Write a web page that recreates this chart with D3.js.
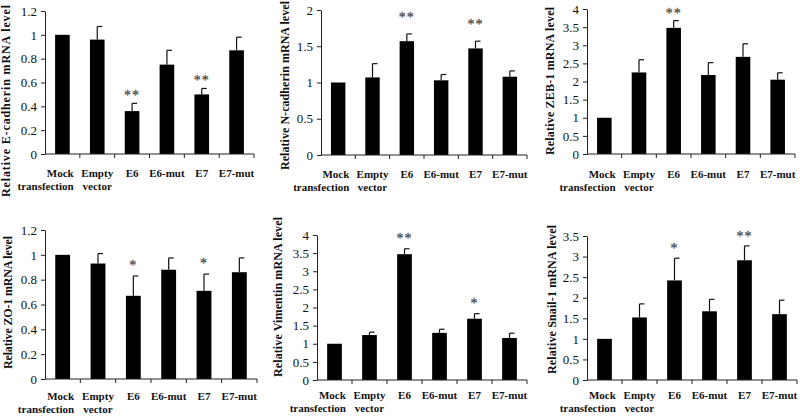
<!DOCTYPE html>
<html>
<head>
    <meta charset="utf-8">
    <title>Relative mRNA levels</title>
    <script src="https://d3js.org/d3.v7.min.js"></script>
</head>
<body style="margin: 0; background: #fff;">
    <div id="chart"></div>

    <script>
        const FONT = "'Liberation Serif', Tinos, 'Times New Roman', serif";

        // categories (two-line labels)
        const categories = ["Mock transfection", "Empty vector", "E6", "E6-mut", "E7", "E7-mut"];
        const categoryLines = [["Mock", "transfection"], ["Empty", "vector"], ["E6"], ["E6-mut"], ["E7"], ["E7-mut"]];

        // mean values and upper error (SD)
        const eCadherin    = [1, 0.96, 0.36, 0.75, 0.50, 0.87];
        const eCadherinErr = [0, 0.11, 0.065, 0.12, 0.05, 0.11];
        const eCadherinSig = ["", "", "**", "", "**", ""];

        const nCadherin    = [1, 1.07, 1.57, 1.03, 1.47, 1.08];
        const nCadherinErr = [0, 0.19, 0.10, 0.08, 0.10, 0.08];
        const nCadherinSig = ["", "", "**", "", "**", ""];

        const zeb1    = [1, 2.25, 3.48, 2.18, 2.68, 2.05];
        const zeb1Err = [0, 0.35, 0.20, 0.34, 0.36, 0.19];
        const zeb1Sig = ["", "", "**", "", "", ""];

        const zo1    = [1, 0.93, 0.67, 0.88, 0.71, 0.86];
        const zo1Err = [0, 0.08, 0.16, 0.095, 0.135, 0.115];
        const zo1Sig = ["", "", "*", "", "*", ""];

        const vimentin    = [1, 1.24, 3.47, 1.30, 1.69, 1.16];
        const vimentinErr = [0, 0.08, 0.15, 0.10, 0.14, 0.13];
        const vimentinSig = ["", "", "**", "", "*", ""];

        const snail1    = [1, 1.52, 2.42, 1.67, 2.91, 1.60];
        const snail1Err = [0, 0.33, 0.54, 0.29, 0.35, 0.34];
        const snail1Sig = ["", "", "*", "", "**", ""];

        const yLabels = [
            "Relative  E-cadherin  mRNA  level",
            "Relative  N-cadherin  mRNA  level",
            "Relative  ZEB-1  mRNA  level",
            "Relative  ZO-1  mRNA  level",
            "Relative  Vimentin  mRNA  level",
            "Relative  Snail-1  mRNA  level"
        ];
        const yMax  = [1.2, 2, 4, 1.2, 4, 3.5];
        const yStep = [0.2, 0.5, 0.5, 0.2, 0.5, 0.5];

        // panel layout (pixels)
        const panels = [
            { x0: 45,  x1: 254, yTop: 11,  yBot: 154, labX: 6,   labY0: 5,   labY1: 197, catY: 177, starGap: 3 },
            { x0: 321, x1: 527, yTop: 10,  yBot: 155, labX: 285, labY0: 1,   labY1: 170, catY: 178, starGap: 12 },
            { x0: 587, x1: 795, yTop: 9,   yBot: 154, labX: 550, labY0: 7,   labY1: 155, catY: 178, starGap: 3 },
            { x0: 45,  x1: 257, yTop: 230, yBot: 379, labX: 8,   labY0: 236, labY1: 369, catY: 400, starGap: 6 },
            { x0: 317, x1: 527, yTop: 235, yBot: 380, labX: 278, labY0: 217, labY1: 377, catY: 399, starGap: 6 },
            { x0: 587, x1: 797, yTop: 236, yBot: 380, labX: 552, labY0: 225, labY1: 374, catY: 399, starGap: 5 }
        ];
        const values = [eCadherin, nCadherin, zeb1, zo1, vimentin, snail1];
        const errors = [eCadherinErr, nCadherinErr, zeb1Err, zo1Err, vimentinErr, snail1Err];
        const sigs   = [eCadherinSig, nCadherinSig, zeb1Sig, zo1Sig, vimentinSig, snail1Sig];

        const svg = d3.select("#chart")
            .append("svg")
            .attr("width", 800)
            .attr("height", 417);

        panels.forEach(function(p, k) {
            const g = svg.append("g");
            const rows = categories.map((c, i) => ({ c: c, v: values[k][i], e: errors[k][i], s: sigs[k][i], i: i }));

            const x = d3.scaleBand()
                .domain(categories)
                .range([p.x0, p.x1])
                .paddingInner(0.58)
                .paddingOuter(0.29);
            const y = d3.scaleLinear()
                .domain([0, yMax[k]])
                .range([p.yBot, p.yTop]);

            // bars
            g.selectAll(".bar")
                .data(rows)
                .enter().append("rect")
                .attr("x", d => x(d.c))
                .attr("y", d => y(d.v))
                .attr("width", x.bandwidth())
                .attr("height", d => y(0) - y(d.v))
                .attr("fill", "#000");

            // error bars (upper only)
            const eb = rows.filter(d => d.e > 0);
            g.selectAll(".err")
                .data(eb)
                .enter().append("line")
                .attr("x1", d => x(d.c) + x.bandwidth() / 2)
                .attr("x2", d => x(d.c) + x.bandwidth() / 2)
                .attr("y1", d => y(d.v))
                .attr("y2", d => y(d.v + d.e))
                .attr("stroke", "#111")
                .attr("stroke-width", 1.2);
            g.selectAll(".cap")
                .data(eb)
                .enter().append("line")
                .attr("x1", d => x(d.c) + x.bandwidth() / 2)
                .attr("x2", d => x(d.c) + x.bandwidth() / 2 + 5)
                .attr("y1", d => y(d.v + d.e))
                .attr("y2", d => y(d.v + d.e))
                .attr("stroke", "#111")
                .attr("stroke-width", 1.2);

            // significance stars
            g.selectAll(".star")
                .data(rows.filter(d => d.s))
                .enter().append("text")
                .attr("x", d => x(d.c) + x.bandwidth() / 2)
                .attr("y", d => y(d.v + d.e) - p.starGap)
                .attr("text-anchor", "middle")
                .style("font-family", FONT)
                .style("font-size", "14px")
                .style("letter-spacing", "1px")
                .attr("fill", "#555")
                .attr("stroke", "#555")
                .attr("stroke-width", 0.3)
                .text(d => d.s);

            // y axis
            const yAxis = d3.axisLeft(y)
                .tickValues(d3.range(0, yMax[k] + 1e-9, yStep[k]))
                .tickFormat(d => String(+d.toFixed(2)))
                .tickSize(4)
                .tickSizeOuter(0);
            const ya = g.append("g")
                .attr("transform", "translate(" + p.x0 + ",0)")
                .call(yAxis);
            ya.selectAll("text")
                .style("font-family", FONT)
                .style("font-size", "13px")
                .attr("fill", "#111")
                .attr("dx", "-1");
            ya.selectAll("line, path").attr("stroke", "#222");

            // x axis with ticks between categories
            g.append("line")
                .attr("x1", p.x0).attr("x2", p.x1)
                .attr("y1", p.yBot).attr("y2", p.yBot)
                .attr("stroke", "#222");
            const step = x.step();
            g.selectAll(".xt")
                .data(categories.map(c => x(c) + x.bandwidth() + (step - x.bandwidth()) / 2))
                .enter().append("line")
                .attr("x1", d => d).attr("x2", d => d)
                .attr("y1", p.yBot).attr("y2", p.yBot + 4)
                .attr("stroke", "#222");

            // category labels
            rows.forEach(function(d) {
                const lines = categoryLines[d.i];
                const cx = x(d.c) + x.bandwidth() / 2;
                lines.forEach(function(t, j) {
                    g.append("text")
                        .attr("x", d.i === 0 ? cx + x.bandwidth() / 2 + 4 : cx)
                        .attr("y", p.catY + j * 13)
                        .attr("text-anchor", d.i === 0 ? "end" : "middle")
                        .style("font-family", FONT)
                        .style("font-size", "11px")
                        .style("font-weight", "bold")
                        .attr("fill", "#111")
                        .text(t);
                });
            });

            // y axis title
            g.append("text")
                .attr("transform", "translate(" + (p.labX + 4) + "," + ((p.labY0 + p.labY1) / 2) + ") rotate(-90)")
                .attr("text-anchor", "middle")
                .style("font-family", FONT)
                .style("font-size", "12px")
                .style("font-weight", "bold")
                .attr("fill", "#111")
                .attr("textLength", p.labY1 - p.labY0)
                .attr("lengthAdjust", "spacing")
                .text(yLabels[k]);
        });
    </script>
</body>
</html>
